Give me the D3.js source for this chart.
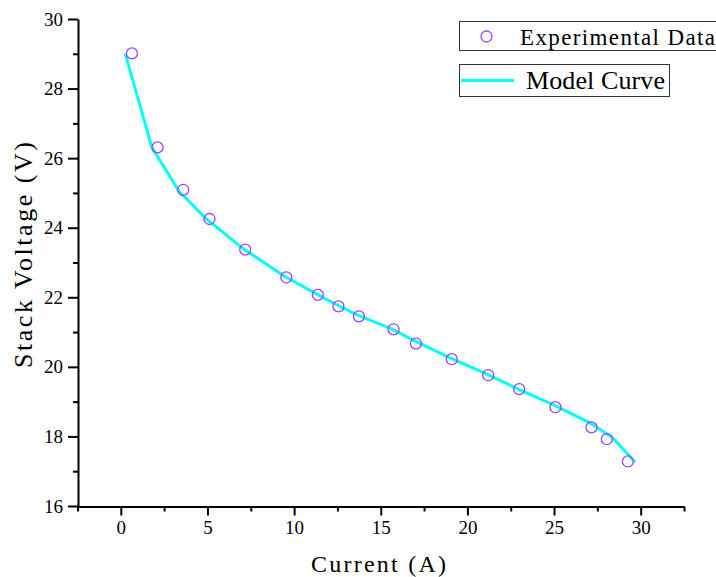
<!DOCTYPE html>
<html>
<head>
<meta charset="utf-8">
<script src="https://cdn.jsdelivr.net/npm/d3@7"></script>
<style>
  body { margin: 0; background: #fff; }
  .tick text { font-family: "Liberation Serif", serif; font-size: 19px; fill: #000; }
  .lbl { font-family: "Liberation Serif", serif; fill: #000; }
</style>
</head>
<body>
<div class="chart"></div>
<script>
// Experimental data (current in A, stack voltage in V)
var expCurrent = [0.64, 2.12, 3.6, 5.12, 7.18, 9.55, 11.37, 12.56, 13.74, 15.74, 17.03, 19.1, 21.2, 22.99, 25.08, 27.16, 28.05, 29.26];
var expVoltage = [29.01, 26.31, 25.09, 24.25, 23.37, 22.57, 22.07, 21.74, 21.45, 21.08, 20.67, 20.22, 19.76, 19.36, 18.84, 18.26, 17.92, 17.28];

// Model curve
var modelCurrent = [0.25, 1.79, 3.37, 4.9, 7.0, 9.4, 11.2, 12.4, 13.6, 15.6, 16.9, 19.0, 21.0, 22.9, 25.0, 27.1, 28.37, 29.68];
var modelVoltage = [29.01, 26.31, 25.04, 24.27, 23.42, 22.62, 22.12, 21.8, 21.5, 21.1, 20.76, 20.26, 19.82, 19.37, 18.9, 18.38, 17.97, 17.26];

var xMajor = [0, 5, 10, 15, 20, 25, 30];
var xMinor = [-2.5, 2.5, 7.5, 12.5, 17.5, 22.5, 27.5, 32.5];
var yMajor = [16, 18, 20, 22, 24, 26, 28, 30];
var yMinor = [17, 19, 21, 23, 25, 27, 29];

var svgWidth = 716;
var svgHeight = 577;

var svg = d3.select(".chart")
            .append("svg")
            .attr("width", svgWidth)
            .attr("height", svgHeight);

var xScale = d3.scaleLinear().domain([-2.5, 32.5]).range([77.5, 684]);
var yScale = d3.scaleLinear().domain([16, 30]).range([506, 19]);

// minor ticks first, then major axes over them
svg.append("g")
   .attr("transform", "translate(0,506.5)")
   .call(d3.axisBottom(xScale).tickValues(xMinor).tickSize(5).tickFormat(""))
   .call(g => g.select(".domain").remove());
svg.append("g")
   .attr("transform", "translate(78,0)")
   .call(d3.axisLeft(yScale).tickValues(yMinor).tickSize(5).tickFormat(""))
   .call(g => g.select(".domain").remove());

svg.append("g")
   .attr("transform", "translate(0,506.5)")
   .call(d3.axisBottom(xScale).tickValues(xMajor).tickSize(9).tickSizeOuter(0).tickPadding(5));
svg.append("g")
   .attr("transform", "translate(78,0)")
   .call(d3.axisLeft(yScale).tickValues(yMajor).tickSize(10).tickSizeOuter(0).tickPadding(5));

svg.selectAll(".domain").attr("stroke", "#000").attr("stroke-width", 2);
svg.selectAll(".tick line").attr("stroke", "#000").attr("stroke-width", 2);

// model curve
var modelData = modelCurrent.map((c, i) => ({x: c, y: modelVoltage[i]}));
var line = d3.line().x(d => xScale(d.x)).y(d => yScale(d.y));
svg.append("path")
   .datum(modelData)
   .attr("d", line)
   .attr("fill", "none")
   .attr("stroke", "#00ffff")
   .attr("stroke-width", 3)
   .attr("stroke-linejoin", "round");

// experimental points
var expData = expCurrent.map((c, i) => ({x: c, y: expVoltage[i]}));
svg.selectAll("circle.exp")
   .data(expData)
   .enter()
   .append("circle")
   .attr("class", "exp")
   .attr("cx", d => xScale(d.x))
   .attr("cy", d => yScale(d.y))
   .attr("r", 5.5)
   .attr("fill", "none")
   .attr("stroke", "#a040ff")
   .attr("stroke-width", 1.3);

// axis labels (monospaced look: stretch to the measured width)
svg.append("text")
   .attr("class", "lbl")
   .attr("x", 311)
   .attr("y", 572)
   .attr("textLength", 135)
   .attr("lengthAdjust", "spacing")
   .style("font-size", "24px")
   .text("Current (A)");

svg.append("text")
   .attr("class", "lbl")
   .attr("transform", "translate(32,368) rotate(-90)")
   .attr("textLength", 226)
   .attr("lengthAdjust", "spacing")
   .style("font-size", "26px")
   .text("Stack Voltage (V)");

// legend
var legend = svg.append("g");
legend.append("rect")
      .attr("x", 459.5).attr("y", 21.5)
      .attr("width", 280).attr("height", 29)
      .attr("fill", "#fff").attr("stroke", "#333").attr("stroke-width", 1);
legend.append("circle")
      .attr("cx", 486.5).attr("cy", 36.5).attr("r", 5.5)
      .attr("fill", "none").attr("stroke", "#a040ff").attr("stroke-width", 1.3);
legend.append("text")
      .attr("class", "lbl")
      .attr("x", 520).attr("y", 45)
      .attr("textLength", 195)
      .attr("lengthAdjust", "spacing")
      .style("font-size", "23px")
      .text("Experimental Data");

legend.append("rect")
      .attr("x", 459.5).attr("y", 64.5)
      .attr("width", 210).attr("height", 32)
      .attr("fill", "#fff").attr("stroke", "#333").attr("stroke-width", 1);
legend.append("line")
      .attr("x1", 461).attr("x2", 514)
      .attr("y1", 80.5).attr("y2", 80.5)
      .attr("stroke", "#00ffff").attr("stroke-width", 3);
legend.append("text")
      .attr("class", "lbl")
      .attr("x", 526).attr("y", 89)
      .attr("textLength", 139)
      .attr("lengthAdjust", "spacing")
      .style("font-size", "26px")
      .text("Model Curve");
</script>
</body>
</html>
